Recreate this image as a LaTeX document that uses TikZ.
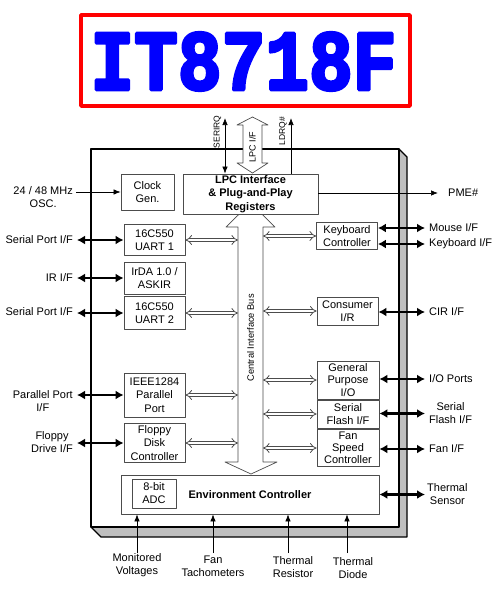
\documentclass[tikz,border=0pt]{standalone}
\usepackage{fontspec}
\setmainfont{Liberation Sans}
\newfontfamily\titlefont{Liberation Mono}[BoldFeatures={FakeBold=4}]
\usepackage{tikz}
\usetikzlibrary{arrows.meta,positioning,calc}

\begin{document}
\begin{tikzpicture}[x=1pt,y=-1pt,line join=round,
  blk/.style={draw=black!70,line width=0.8pt,fill=white,align=center,inner sep=0pt,font=\fontsize{11}{13}\selectfont},
  txt/.style={align=center,inner sep=0pt,font=\fontsize{11}{13}\selectfont},
  lbl/.style={txt,inner xsep=4pt},
  vtxt/.style={rotate=90,inner sep=0pt,font=\fontsize{8.5}{10}\selectfont},
  sig/.style={-{Latex[length=7pt,width=5.5pt]},line width=0.7pt},
  sigb/.style={{Latex[length=7pt,width=5.5pt]}-{Latex[length=7pt,width=5.5pt]},line width=0.7pt},
  io/.style={{Latex[length=8pt,width=9pt]}-{Latex[length=8pt,width=9pt]},line width=2.4pt},
  bus/.style={draw=black!70,double=white,double distance=2.6pt,line width=0.8pt,{Implies}-{Implies}}]
\useasboundingbox (0,0) rectangle (500,591);
\draw[red,line width=3.5pt] (81,15) rectangle (410,106);
\node[text=blue,inner sep=0pt] (title) at (243.5,61.5) {\resizebox{306pt}{57pt}{\titlefont\bfseries IT8718F}};
\draw[line width=1.2pt,fill=black!25] (91,149)--(399,149)--(407,157)--(407,537)--(101,537)--(91,527)--cycle;
\draw[line width=2.5pt,fill=white] (91,149) rectangle (399,527);
\coordinate (busl) at (238,0);
\coordinate (busr) at (263,0);
\draw[draw=black!70,line width=0.7pt,fill=white] (250.5,203)--(275,227)--(263,227)--(263,462)--(277,462)--(251,474)--(225,462)--(238,462)--(238,227)--(226,227)--cycle;
\node[vtxt,font=\fontsize{9.3}{10}\selectfont] (cib) at (250.5,338) {Central Interface Bus};
\draw[draw=black!70,line width=0.7pt,fill=white] (252.5,117)--(268,125)--(262,125)--(262,163)--(268,163)--(252.5,173)--(237,163)--(243,163)--(243,125)--(237,125)--cycle;
\node[vtxt,font=\fontsize{9}{10}\selectfont] (lpcif) at (252.5,147) {LPC I/F};
\node[blk,minimum width=53,minimum height=36] (clk) at (147.5,192) {Clock\\Gen.};
\node[blk,minimum width=135,minimum height=40,font=\fontsize{11}{13.5}\selectfont\bfseries] (lpc) at (250.5,194) {LPC Interface\\\& Plug-and-Play\\Registers};
\node[blk,minimum width=61,minimum height=31] (uart1) at (154.5,240) {16C550\\UART 1};
\node[blk,minimum width=61,minimum height=32] (irda) at (154.5,278) {IrDA 1.0 /\\ASKIR};
\node[blk,minimum width=61,minimum height=33] (uart2) at (154.5,313) {16C550\\UART 2};
\node[blk,minimum width=61,minimum height=44,font=\fontsize{11}{13.5}\selectfont] (ieee) at (154.5,395) {IEEE1284\\Parallel\\Port};
\node[blk,minimum width=61,minimum height=39,font=\fontsize{11}{13.5}\selectfont] (fdc) at (154.5,443) {Floppy\\Disk\\Controller};
\node[blk,minimum width=258,minimum height=39,font=\fontsize{11}{13}\selectfont\bfseries] (env) at (250,494.5) {Environment Controller};
\node[blk,minimum width=44,minimum height=29] (adc) at (154,493.5) {8-bit\\ADC};
\node[blk,minimum width=61,minimum height=27] (kbc) at (347,236) {Keyboard\\Controller};
\node[blk,minimum width=61,minimum height=28] (cir) at (347.5,311) {Consumer\\I/R};
\node[blk,minimum width=62,minimum height=38,font=\fontsize{11}{12.5}\selectfont] (gpio) at (348,380) {General\\Purpose\\I/O};
\node[blk,minimum width=62,minimum height=28] (sfl) at (348,414) {Serial\\Flash I/F};
\node[blk,minimum width=62,minimum height=37,font=\fontsize{11}{12}\selectfont] (fan) at (348,448) {Fan\\Speed\\Controller};
\foreach \b in {uart1,uart2,ieee,fdc} \draw[bus] (\b.east) -- (\b.east -| busl);
\foreach \b in {kbc,cir,gpio,sfl,fan} \draw[bus] (\b.west -| busr) -- (\b.west);
\node[vtxt] (serirq) at (217.5,132) {SERIRQ};
\node[vtxt] (ldrq) at (283,131) {LDRQ\#};
\coordinate (irqtop) at (225,118);
\coordinate (ldrqtop) at (291,118);
\draw[sigb] (irqtop) -- (irqtop |- lpc.north);
\draw[sig] (ldrqtop |- lpc.north) -- (ldrqtop);
\node[txt,anchor=west] (pme) at (448,193) {PME\#};
\draw[sig] (lpc.east |- pme.west) -- ([xshift=-10pt]pme.west);
\node[lbl,inner xsep=3pt,anchor=east] (osc) at (76,197.5) {24 / 48 MHz\\OSC.};
\draw[sig] (clk.west -| osc.east) -- (clk.west);
\node[lbl,anchor=east] (sp1) at (77,240) {Serial Port I/F};
\node[lbl,anchor=east] (ir) at (77,278) {IR I/F};
\node[lbl,anchor=east] (sp2) at (77,312) {Serial Port I/F};
\node[lbl,anchor=east] (par) at (77,401) {Parallel Port\\I/F};
\node[lbl,anchor=east] (fdd) at (77,442.5) {Floppy\\Drive I/F};
\draw[io] (uart1.west -| sp1.east) -- (uart1.west);
\draw[io] (irda.west -| ir.east) -- (irda.west);
\draw[io] (uart2.west -| sp2.east) -- (uart2.west);
\draw[io] (ieee.west -| par.east) -- (ieee.west);
\draw[io] (fdc.west -| fdd.east) -- (fdc.west);
\node[lbl,anchor=west] (mouse) at (425,228) {Mouse I/F};
\node[lbl,anchor=west] (kbd) at (425,244) {Keyboard I/F};
\node[lbl,anchor=west] (cirif) at (425,312) {CIR I/F};
\node[lbl,anchor=west] (iop) at (425,379) {I/O Ports};
\node[lbl,anchor=west] (sflif) at (425,413.5) {Serial\\Flash I/F};
\node[lbl,anchor=west] (fanif) at (425,449) {Fan I/F};
\node[lbl,anchor=west] (tsen) at (423,494.5) {Thermal\\Sensor};
\draw[io] (kbc.east |- mouse.west) -- (mouse.west);
\draw[io] (kbc.east |- kbd.west) -- (kbd.west);
\draw[io] (cir.east |- cirif.west) -- (cirif.west);
\draw[io] (gpio.east |- iop.west) -- (iop.west);
\draw[io] (sfl.east |- sflif.west) -- (sflif.west);
\draw[io] (fan.east |- fanif.west) -- (fanif.west);
\draw[io] (env.east |- tsen.west) -- ([xshift=2pt]tsen.west);
\node[txt,anchor=north] (mv) at (137,553) {Monitored\\Voltages};
\node[txt,anchor=north] (tach) at (213,556) {Fan\\Tachometers};
\node[txt,anchor=north] (tres) at (293,556) {Thermal\\Resistor};
\node[txt,anchor=north] (tdio) at (353,557) {Thermal\\Diode};
\draw[sig] (mv.north) -- (mv.north |- env.south);
\draw[sig] ([yshift=3pt]tach.north) -- (tach.north |- env.south);
\draw[sig] ([shift={(-5pt,3pt)}]tres.north) -- ([xshift=-5pt]tres.north |- env.south);
\draw[sig] ([shift={(-6pt,4pt)}]tdio.north) -- ([xshift=-6pt]tdio.north |- env.south);
\end{tikzpicture}
\end{document}
